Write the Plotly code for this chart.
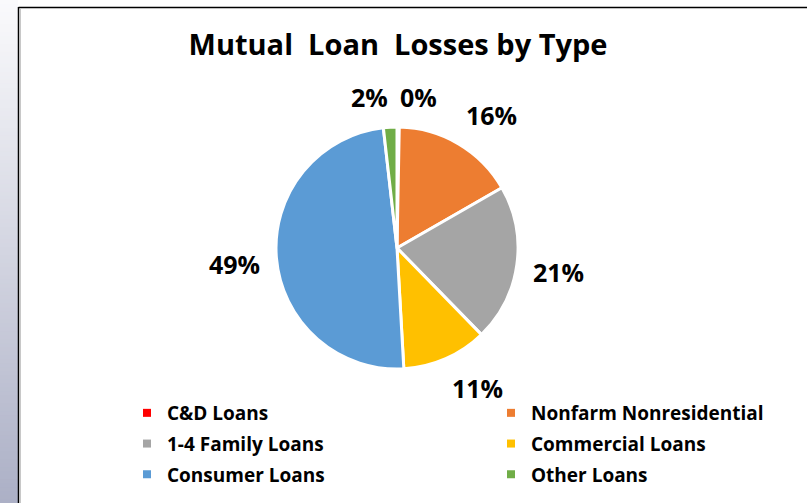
import math
import plotly.graph_objects as go

categories = ["C&D Loans", "Nonfarm Nonresidential", "1-4 Family Loans",
              "Commercial Loans", "Consumer Loans", "Other Loans"]
values = [0.3, 16.4, 21.0, 11.4, 49.1, 1.8]
colors = ["#ff0000", "#ed7d31", "#a5a5a5", "#ffc000", "#5b9bd5", "#70ad47"]
legend_column = [1, 2, 1, 2, 1, 2]

W, H = 807, 503
FONT = "Open Sans"

# pie geometry (pixels)
CX, CY, R = 397, 248, 121

fig = go.Figure()
fig.add_trace(go.Pie(
    labels=categories,
    values=values,
    sort=False,
    direction="clockwise",
    rotation=0,
    marker=dict(colors=colors, line=dict(color="white", width=3)),
    textinfo="none",
    domain=dict(x=[(CX - R) / W, (CX + R) / W], y=[1 - (CY + R) / H, 1 - (CY - R) / H]),
    showlegend=False,
    hoverinfo="label+percent",
))

# legend entries (markers only, no data points)
for cat, col, lc in zip(categories, colors, legend_column):
    fig.add_trace(go.Scatter(
        x=[None], y=[None], mode="markers", name=cat,
        marker=dict(symbol="square", size=8, color=col),
        legend="legend" if lc == 1 else "legend2",
        legendgroup=cat, showlegend=True, hoverinfo="skip",
    ))

# data labels placed outside each slice, derived from values
total = sum(values)
annotations = []
cum = 0.0
for v in values:
    mid = (cum + v / 2) / total * 2 * math.pi
    cum += v
    s, c = math.sin(mid), math.cos(mid)
    lr = 136 - 4 * abs(c)
    px = CX + lr * s
    py = CY - lr * c
    xa = "left" if s > 0 else "right"
    ya = "bottom" if c > 0.5 else ("top" if c < -0.5 else "middle")
    annotations.append(dict(
        x=px / W, y=1 - py / H, xref="paper", yref="paper",
        text="%d%%" % round(v / total * 100), showarrow=False,
        xanchor=xa, yanchor=ya, yshift=-5 if ya == "middle" else 0,
        font=dict(family=FONT, size=25, color="black", weight="bold"),
    ))

shapes = []
n = 126
top_c = (250, 250, 252)
bot_c = (172, 176, 198)
for i in range(n):
    t = i / (n - 1)
    cc = tuple(int(round(top_c[k] + (bot_c[k] - top_c[k]) * t)) for k in range(3))
    shapes.append(dict(type="rect", xref="paper", yref="paper",
                       x0=0, x1=18 / W, y0=1 - (i + 1.6) / n, y1=1 - i / n,
                       line=dict(width=0), fillcolor="rgb(%d,%d,%d)" % cc, layer="below"))
shapes.append(dict(type="line", xref="paper", yref="paper",
                   x0=18.5 / W, x1=18.5 / W, y0=0, y1=1 - 7 / H,
                   line=dict(color="black", width=1.5)))
shapes.append(dict(type="line", xref="paper", yref="paper",
                   x0=18.5 / W, x1=1, y0=1 - 7.5 / H, y1=1 - 7.5 / H,
                   line=dict(color="black", width=1.5)))
shapes.append(dict(type="line", xref="paper", yref="paper",
                   x0=20.5 / W, x1=20.5 / W, y0=0, y1=1 - 9 / H,
                   line=dict(color="#c8c8c8", width=1)))

legend_font = dict(family=FONT, size=19, color="black", weight="bold")
fig.update_layout(
    width=W, height=H,
    margin=dict(l=0, r=0, t=0, b=0, autoexpand=False),
    paper_bgcolor="white",
    plot_bgcolor="white",
    xaxis=dict(visible=False),
    yaxis=dict(visible=False),
    title=dict(text="Mutual\u00a0 Loan\u00a0 Losses by Type", x=398 / W, xanchor="center",
               y=1 - 45 / H, yanchor="middle",
               font=dict(family=FONT, size=29, color="black", weight="bold")),
    legend=dict(orientation="v", x=127 / W, xanchor="left", y=1 - 394 / H, yanchor="top",
                font=legend_font, tracegroupgap=3, bgcolor="rgba(0,0,0,0)"),
    legend2=dict(orientation="v", x=491 / W, xanchor="left", y=1 - 394 / H, yanchor="top",
                 font=legend_font, tracegroupgap=3, bgcolor="rgba(0,0,0,0)"),
    shapes=shapes,
    annotations=annotations,
)

fig.write_html("out.html", config={"displayModeBar": False},
               post_script="document.body.style.margin='0px';")
